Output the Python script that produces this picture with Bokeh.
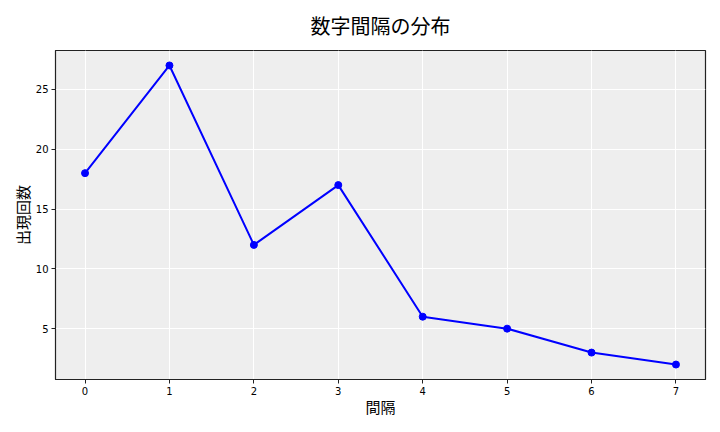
from bokeh.plotting import figure
from bokeh.models import Range1d, FixedTicker
from bokeh.embed import file_html
from bokeh.resources import INLINE

# 数字間隔ごとの出現回数
gaps = [0, 1, 2, 3, 4, 5, 6, 7]
counts = [18, 27, 12, 17, 6, 5, 3, 2]
y_ticks = [5, 10, 15, 20, 25]

FONT = "Noto Sans CJK JP"

p = figure(frame_width=650, frame_height=329, title="数字間隔の分布",
           x_range=Range1d(-0.35, 7.35), y_range=Range1d(0.75, 28.25),
           output_backend="svg", toolbar_location=None,
           min_border_left=55, min_border_right=7,
           min_border_top=50, min_border_bottom=40)

p.title.align = "center"
p.title.vertical_align = "top"
p.title.text_font = FONT
p.title.text_font_size = "20px"
p.title.text_font_style = "normal"
p.title.text_color = "black"
p.title.standoff = 18

p.background_fill_color = "#eeeeee"
p.border_fill_color = "white"
p.outline_line_color = "#222222"
p.outline_line_width = 1.2
p.grid.grid_line_color = "white"
p.grid.grid_line_width = 1

p.xaxis.ticker = FixedTicker(ticks=gaps)
p.yaxis.ticker = FixedTicker(ticks=y_ticks)
p.xaxis.axis_label = "間隔"
p.yaxis.axis_label = "出現回数"
for ax in (p.xaxis, p.yaxis):
    ax.axis_label_text_font = FONT
    ax.axis_label_text_font_size = "15px"
    ax.axis_label_text_font_style = "normal"
    ax.axis_label_text_color = "black"
    ax.major_label_text_font = "DejaVu Sans"
    ax.major_label_text_font_size = "10px"
    ax.major_label_text_color = "black"
    ax.major_tick_out = 4
    ax.major_tick_in = 0
    ax.minor_tick_line_color = None
    ax.axis_line_color = "#222222"
    ax.major_tick_line_color = "#222222"
p.xaxis.major_label_standoff = 3
p.xaxis.axis_label_standoff = -2
p.yaxis.major_label_standoff = 3
p.yaxis.axis_label_standoff = 0

p.line(gaps, counts, line_color="blue", line_width=2)
p.scatter(gaps, counts, size=7, fill_color="blue", line_color="blue")

open("out.html", "w").write(file_html(p, INLINE))
